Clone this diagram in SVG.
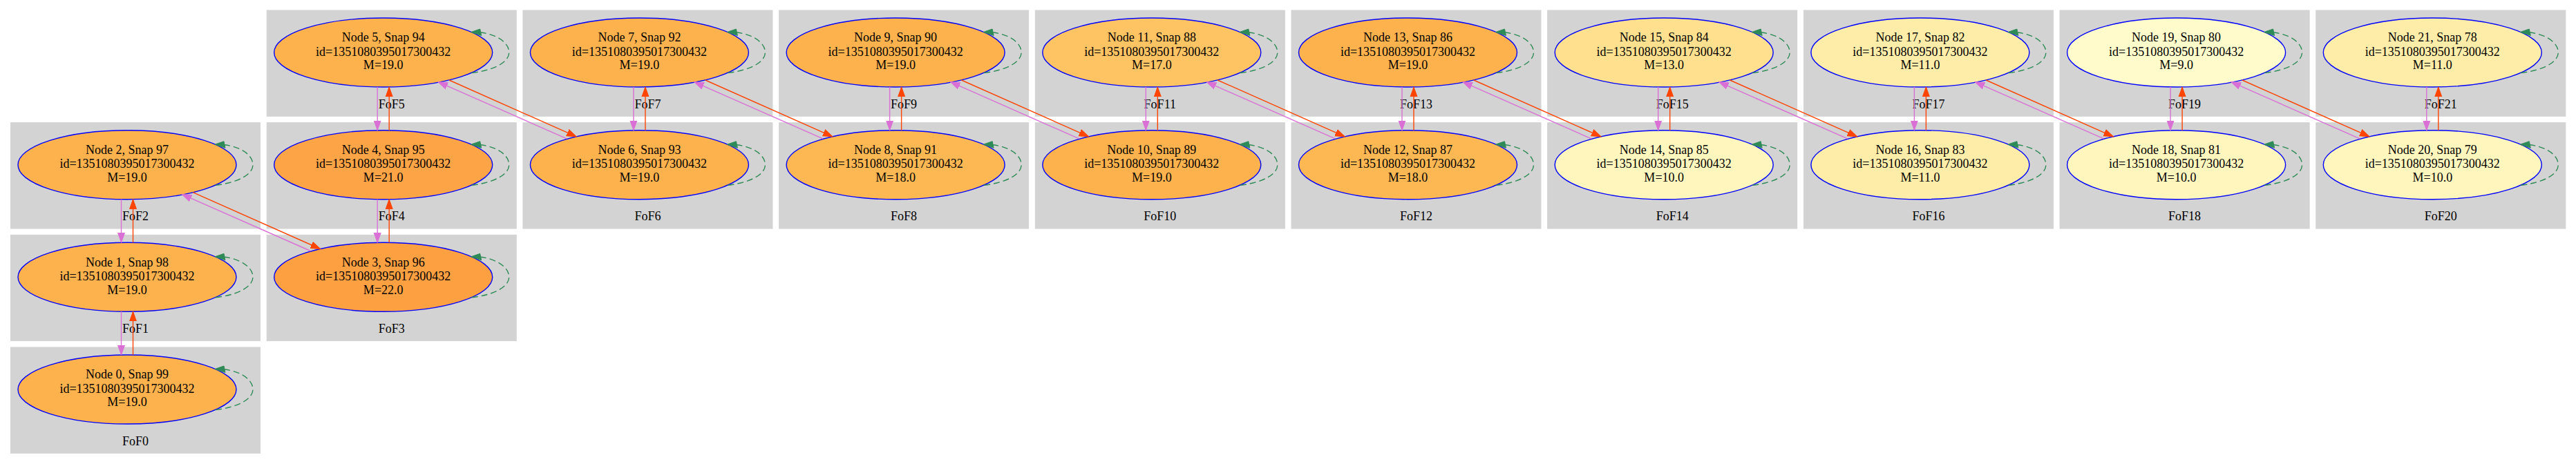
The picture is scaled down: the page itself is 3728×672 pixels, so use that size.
<svg xmlns="http://www.w3.org/2000/svg" xmlns:xlink="http://www.w3.org/1999/xlink" width="3728" height="672" viewBox="0 0 3728 672">
<style>
.cl{fill:#d3d3d3;stroke:#d3d3d3;stroke-width:1}
.cll{font-family:"Liberation Serif","Times New Roman",serif;font-size:18px;fill:#000;text-anchor:middle}
.nd ellipse{stroke:#0000ff;stroke-width:1.4}
.nd text{font-family:"Liberation Serif","Times New Roman",serif;font-size:18px;fill:#000;text-anchor:middle}
.m22{fill:#fda042}.m21{fill:#fda446}.m19{fill:#fdb24d}.m18{fill:#fdb853}.m17{fill:#fec362}
.m13{fill:#fee08f}.m11{fill:#feeda8}.m10{fill:#fff6bd}.m9{fill:#fffbca}
.ev{stroke:#da70d6;stroke-width:1.4;fill:none;marker-end:url(#av)}
.er{stroke:#ff4500;stroke-width:1.4;fill:none;marker-end:url(#ar)}
.lp{stroke:#2e8b57;stroke-width:1.4;fill:none;stroke-dasharray:9,5}
</style>
<defs>
<marker id="av" markerUnits="userSpaceOnUse" markerWidth="16" markerHeight="12" viewBox="0 -6 16 12" refX="14" refY="0" orient="auto"><path d="M0,-5 L14,0 L0,5 Z" fill="#da70d6" stroke="#da70d6" stroke-width="1"/></marker>
<marker id="ar" markerUnits="userSpaceOnUse" markerWidth="16" markerHeight="12" viewBox="0 -6 16 12" refX="14" refY="0" orient="auto"><path d="M0,-5 L14,0 L0,5 Z" fill="#ff4500" stroke="#ff4500" stroke-width="1"/></marker>
<g id="loop"><path class="lp" d="M128,29.5 C160,26 182,14 182,0 C182,-14 165,-26 141,-29"/><polygon points="127,-29.5 140,-34 142,-24.5" fill="#2e8b57" stroke="#2e8b57" stroke-width="1"/></g>
</defs>
<rect width="3728" height="672" fill="#ffffff"/>
<g id="clusters">
<g id="FoF0"><rect class="cl" x="15.5" y="503" width="361" height="153.3"/><text class="cll" x="196" y="644.5">FoF0</text></g>
<g id="FoF1"><rect class="cl" x="15.5" y="340.3" width="361" height="153.3"/><text class="cll" x="196" y="481.8">FoF1</text></g>
<g id="FoF2"><rect class="cl" x="15.5" y="177.7" width="361" height="153.3"/><text class="cll" x="196" y="319.2">FoF2</text></g>
<g id="FoF3"><rect class="cl" x="386.2" y="340.3" width="361" height="153.3"/><text class="cll" x="566.7" y="481.8">FoF3</text></g>
<g id="FoF4"><rect class="cl" x="386.2" y="177.7" width="361" height="153.3"/><text class="cll" x="566.7" y="319.2">FoF4</text></g>
<g id="FoF5"><rect class="cl" x="386.2" y="15" width="361" height="153.3"/><text class="cll" x="566.7" y="156.5">FoF5</text></g>
<g id="FoF6"><rect class="cl" x="756.9" y="177.7" width="361" height="153.3"/><text class="cll" x="937.4" y="319.2">FoF6</text></g>
<g id="FoF7"><rect class="cl" x="756.9" y="15" width="361" height="153.3"/><text class="cll" x="937.4" y="156.5">FoF7</text></g>
<g id="FoF8"><rect class="cl" x="1127.6" y="177.7" width="361" height="153.3"/><text class="cll" x="1308.1" y="319.2">FoF8</text></g>
<g id="FoF9"><rect class="cl" x="1127.6" y="15" width="361" height="153.3"/><text class="cll" x="1308.1" y="156.5">FoF9</text></g>
<g id="FoF10"><rect class="cl" x="1498.3" y="177.7" width="361" height="153.3"/><text class="cll" x="1678.8" y="319.2">FoF10</text></g>
<g id="FoF11"><rect class="cl" x="1498.3" y="15" width="361" height="153.3"/><text class="cll" x="1678.8" y="156.5">FoF11</text></g>
<g id="FoF12"><rect class="cl" x="1869" y="177.7" width="361" height="153.3"/><text class="cll" x="2049.5" y="319.2">FoF12</text></g>
<g id="FoF13"><rect class="cl" x="1869" y="15" width="361" height="153.3"/><text class="cll" x="2049.5" y="156.5">FoF13</text></g>
<g id="FoF14"><rect class="cl" x="2239.7" y="177.7" width="361" height="153.3"/><text class="cll" x="2420.2" y="319.2">FoF14</text></g>
<g id="FoF15"><rect class="cl" x="2239.7" y="15" width="361" height="153.3"/><text class="cll" x="2420.2" y="156.5">FoF15</text></g>
<g id="FoF16"><rect class="cl" x="2610.4" y="177.7" width="361" height="153.3"/><text class="cll" x="2790.9" y="319.2">FoF16</text></g>
<g id="FoF17"><rect class="cl" x="2610.4" y="15" width="361" height="153.3"/><text class="cll" x="2790.9" y="156.5">FoF17</text></g>
<g id="FoF18"><rect class="cl" x="2981.1" y="177.7" width="361" height="153.3"/><text class="cll" x="3161.6" y="319.2">FoF18</text></g>
<g id="FoF19"><rect class="cl" x="2981.1" y="15" width="361" height="153.3"/><text class="cll" x="3161.6" y="156.5">FoF19</text></g>
<g id="FoF20"><rect class="cl" x="3351.8" y="177.7" width="361" height="153.3"/><text class="cll" x="3532.3" y="319.2">FoF20</text></g>
<g id="FoF21"><rect class="cl" x="3351.8" y="15" width="361" height="153.3"/><text class="cll" x="3532.3" y="156.5">FoF21</text></g>
</g>
<g id="nodes">
<g id="node0" class="nd" transform="translate(184,564)"><ellipse class="m19" rx="158" ry="50"/><text y="-15.6">Node 0, Snap 99</text><text y="4.5">id=1351080395017300432</text><text y="24.4">M=19.0</text></g>
<g id="node1" class="nd" transform="translate(184,401.3)"><ellipse class="m19" rx="158" ry="50"/><text y="-15.6">Node 1, Snap 98</text><text y="4.5">id=1351080395017300432</text><text y="24.4">M=19.0</text></g>
<g id="node2" class="nd" transform="translate(184,238.7)"><ellipse class="m19" rx="158" ry="50"/><text y="-15.6">Node 2, Snap 97</text><text y="4.5">id=1351080395017300432</text><text y="24.4">M=19.0</text></g>
<g id="node3" class="nd" transform="translate(554.7,401.3)"><ellipse class="m22" rx="158" ry="50"/><text y="-15.6">Node 3, Snap 96</text><text y="4.5">id=1351080395017300432</text><text y="24.4">M=22.0</text></g>
<g id="node4" class="nd" transform="translate(554.7,238.7)"><ellipse class="m21" rx="158" ry="50"/><text y="-15.6">Node 4, Snap 95</text><text y="4.5">id=1351080395017300432</text><text y="24.4">M=21.0</text></g>
<g id="node5" class="nd" transform="translate(554.7,76)"><ellipse class="m19" rx="158" ry="50"/><text y="-15.6">Node 5, Snap 94</text><text y="4.5">id=1351080395017300432</text><text y="24.4">M=19.0</text></g>
<g id="node6" class="nd" transform="translate(925.4,238.7)"><ellipse class="m19" rx="158" ry="50"/><text y="-15.6">Node 6, Snap 93</text><text y="4.5">id=1351080395017300432</text><text y="24.4">M=19.0</text></g>
<g id="node7" class="nd" transform="translate(925.4,76)"><ellipse class="m19" rx="158" ry="50"/><text y="-15.6">Node 7, Snap 92</text><text y="4.5">id=1351080395017300432</text><text y="24.4">M=19.0</text></g>
<g id="node8" class="nd" transform="translate(1296.1,238.7)"><ellipse class="m18" rx="158" ry="50"/><text y="-15.6">Node 8, Snap 91</text><text y="4.5">id=1351080395017300432</text><text y="24.4">M=18.0</text></g>
<g id="node9" class="nd" transform="translate(1296.1,76)"><ellipse class="m19" rx="158" ry="50"/><text y="-15.6">Node 9, Snap 90</text><text y="4.5">id=1351080395017300432</text><text y="24.4">M=19.0</text></g>
<g id="node10" class="nd" transform="translate(1666.8,238.7)"><ellipse class="m19" rx="158" ry="50"/><text y="-15.6">Node 10, Snap 89</text><text y="4.5">id=1351080395017300432</text><text y="24.4">M=19.0</text></g>
<g id="node11" class="nd" transform="translate(1666.8,76)"><ellipse class="m17" rx="158" ry="50"/><text y="-15.6">Node 11, Snap 88</text><text y="4.5">id=1351080395017300432</text><text y="24.4">M=17.0</text></g>
<g id="node12" class="nd" transform="translate(2037.5,238.7)"><ellipse class="m18" rx="158" ry="50"/><text y="-15.6">Node 12, Snap 87</text><text y="4.5">id=1351080395017300432</text><text y="24.4">M=18.0</text></g>
<g id="node13" class="nd" transform="translate(2037.5,76)"><ellipse class="m19" rx="158" ry="50"/><text y="-15.6">Node 13, Snap 86</text><text y="4.5">id=1351080395017300432</text><text y="24.4">M=19.0</text></g>
<g id="node14" class="nd" transform="translate(2408.2,238.7)"><ellipse class="m10" rx="158" ry="50"/><text y="-15.6">Node 14, Snap 85</text><text y="4.5">id=1351080395017300432</text><text y="24.4">M=10.0</text></g>
<g id="node15" class="nd" transform="translate(2408.2,76)"><ellipse class="m13" rx="158" ry="50"/><text y="-15.6">Node 15, Snap 84</text><text y="4.5">id=1351080395017300432</text><text y="24.4">M=13.0</text></g>
<g id="node16" class="nd" transform="translate(2778.9,238.7)"><ellipse class="m11" rx="158" ry="50"/><text y="-15.6">Node 16, Snap 83</text><text y="4.5">id=1351080395017300432</text><text y="24.4">M=11.0</text></g>
<g id="node17" class="nd" transform="translate(2778.9,76)"><ellipse class="m11" rx="158" ry="50"/><text y="-15.6">Node 17, Snap 82</text><text y="4.5">id=1351080395017300432</text><text y="24.4">M=11.0</text></g>
<g id="node18" class="nd" transform="translate(3149.6,238.7)"><ellipse class="m10" rx="158" ry="50"/><text y="-15.6">Node 18, Snap 81</text><text y="4.5">id=1351080395017300432</text><text y="24.4">M=10.0</text></g>
<g id="node19" class="nd" transform="translate(3149.6,76)"><ellipse class="m9" rx="158" ry="50"/><text y="-15.6">Node 19, Snap 80</text><text y="4.5">id=1351080395017300432</text><text y="24.4">M=9.0</text></g>
<g id="node20" class="nd" transform="translate(3520.3,238.7)"><ellipse class="m10" rx="158" ry="50"/><text y="-15.6">Node 20, Snap 79</text><text y="4.5">id=1351080395017300432</text><text y="24.4">M=10.0</text></g>
<g id="node21" class="nd" transform="translate(3520.3,76)"><ellipse class="m11" rx="158" ry="50"/><text y="-15.6">Node 21, Snap 78</text><text y="4.5">id=1351080395017300432</text><text y="24.4">M=11.0</text></g>
</g>
<g id="connectors">
<path class="ev" d="M175.5,451.3 L175.5,514"/><path class="er" d="M192.5,514 L192.5,451.3"/>
<path class="ev" d="M175.5,288.7 L175.5,351.3"/><path class="er" d="M192.5,351.3 L192.5,288.7"/>
<path class="ev" d="M546.2,288.7 L546.2,351.3"/><path class="er" d="M563.2,351.3 L563.2,288.7"/>
<path class="ev" d="M546.2,126 L546.2,188.7"/><path class="er" d="M563.2,188.7 L563.2,126"/>
<path class="ev" d="M916.9,126 L916.9,188.7"/><path class="er" d="M933.9,188.7 L933.9,126"/>
<path class="ev" d="M1287.6,126 L1287.6,188.7"/><path class="er" d="M1304.6,188.7 L1304.6,126"/>
<path class="ev" d="M1658.3,126 L1658.3,188.7"/><path class="er" d="M1675.3,188.7 L1675.3,126"/>
<path class="ev" d="M2029,126 L2029,188.7"/><path class="er" d="M2046,188.7 L2046,126"/>
<path class="ev" d="M2399.7,126 L2399.7,188.7"/><path class="er" d="M2416.7,188.7 L2416.7,126"/>
<path class="ev" d="M2770.4,126 L2770.4,188.7"/><path class="er" d="M2787.4,188.7 L2787.4,126"/>
<path class="ev" d="M3141.1,126 L3141.1,188.7"/><path class="er" d="M3158.1,188.7 L3158.1,126"/>
<path class="ev" d="M3511.8,126 L3511.8,188.7"/><path class="er" d="M3528.8,188.7 L3528.8,126"/>
<path class="er" d="M279.3,278.7 L463.5,360.5"/><path class="ev" d="M449.5,363.5 L263.3,281.4"/>
<path class="er" d="M650,116 L834.2,197.9"/><path class="ev" d="M820.2,200.9 L634,118.7"/>
<path class="er" d="M1020.7,116 L1204.9,197.9"/><path class="ev" d="M1190.9,200.9 L1004.7,118.7"/>
<path class="er" d="M1391.4,116 L1575.6,197.9"/><path class="ev" d="M1561.6,200.9 L1375.4,118.7"/>
<path class="er" d="M1762.1,116 L1946.3,197.9"/><path class="ev" d="M1932.3,200.9 L1746.1,118.7"/>
<path class="er" d="M2132.8,116 L2317,197.9"/><path class="ev" d="M2303,200.9 L2116.8,118.7"/>
<path class="er" d="M2503.5,116 L2687.7,197.9"/><path class="ev" d="M2673.7,200.9 L2487.5,118.7"/>
<path class="er" d="M2874.2,116 L3058.4,197.9"/><path class="ev" d="M3044.4,200.9 L2858.2,118.7"/>
<path class="er" d="M3244.9,116 L3429.1,197.9"/><path class="ev" d="M3415.1,200.9 L3228.9,118.7"/>
<use xlink:href="#loop" transform="translate(184,564)"/>
<use xlink:href="#loop" transform="translate(184,401.3)"/>
<use xlink:href="#loop" transform="translate(184,238.7)"/>
<use xlink:href="#loop" transform="translate(554.7,401.3)"/>
<use xlink:href="#loop" transform="translate(554.7,238.7)"/>
<use xlink:href="#loop" transform="translate(554.7,76)"/>
<use xlink:href="#loop" transform="translate(925.4,238.7)"/>
<use xlink:href="#loop" transform="translate(925.4,76)"/>
<use xlink:href="#loop" transform="translate(1296.1,238.7)"/>
<use xlink:href="#loop" transform="translate(1296.1,76)"/>
<use xlink:href="#loop" transform="translate(1666.8,238.7)"/>
<use xlink:href="#loop" transform="translate(1666.8,76)"/>
<use xlink:href="#loop" transform="translate(2037.5,238.7)"/>
<use xlink:href="#loop" transform="translate(2037.5,76)"/>
<use xlink:href="#loop" transform="translate(2408.2,238.7)"/>
<use xlink:href="#loop" transform="translate(2408.2,76)"/>
<use xlink:href="#loop" transform="translate(2778.9,238.7)"/>
<use xlink:href="#loop" transform="translate(2778.9,76)"/>
<use xlink:href="#loop" transform="translate(3149.6,238.7)"/>
<use xlink:href="#loop" transform="translate(3149.6,76)"/>
<use xlink:href="#loop" transform="translate(3520.3,238.7)"/>
<use xlink:href="#loop" transform="translate(3520.3,76)"/>
</g>
</svg>
